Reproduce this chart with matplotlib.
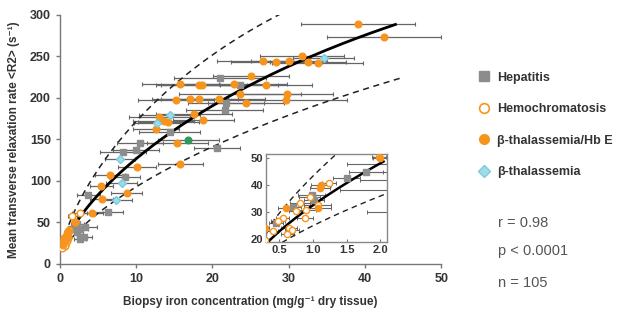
import numpy as np
import matplotlib
matplotlib.use("Agg")
import matplotlib.pyplot as plt
from matplotlib.lines import Line2D

plt.rcParams['font.family'] = ['Liberation Sans', 'DejaVu Sans']

# fitted calibration curve R2 = a + b*LIC^c - d*LIC^(2c), bounds at LIC*k and LIC/k
fit_a, fit_b, fit_c, fit_d = 6.88, 26.06, 0.701, 0.438
bound_k = 1.67

# hepatitis (grey squares)
hep_x = [21.0, 23.6, 21.8, 21.6, 14.4, 10.5, 8.3, 10.0, 20.6, 8.5, 3.7, 6.3,
         2.3, 2.7, 3.3, 2.2, 3.2, 2.6, 1.79, 1.5, 0.98, 1.02, 0.7, 0.45]
hep_y = [224, 215.7, 194, 185.5, 159.4, 146, 135.3, 137.3, 139.4, 105.2, 83, 63,
         48, 42, 45, 38, 33, 30, 45, 42.6, 36.4, 34.6, 31.8, 26]
hep_err = [6, 5, 5, 5, 4, 3, 3, 3, 3, 2, 1.5, 2,
           0.8, 1, 1.5, 0.8, 1, 0.8, 0.25, 0.2, 0.2, 0.15, 0.12, 0.1]

# hemochromatosis (open orange circles)
hemo_x = [2.6, 1.98, 1.24, 0.81, 0.9, 0.55, 0.48, 0.88, 0.64, 0.69, 0.62, 0.29, 1.07,
          1.6, 0.75, 0.95, 0.4]
hemo_y = [61, 50.4, 40.7, 33.3, 30.8, 27.8, 26.5, 27.8, 24, 23.4, 21.6, 19.7, 32.7,
          58, 30.5, 35.5, 23]
hemo_err = [1, 0.1, 0.1, 0.15, 0.15, 0.1, 0.1, 0.12, 0.12, 0.1, 0.1, 0.05, 0.2,
            0.6, 0.1, 0.15, 0.08]

# beta-thalassemia / Hb E (filled orange circles)
bte_x = [39.1, 42.5, 31.8, 26.6, 28.4, 30.0, 32.5, 33.8, 25.1, 22.8, 27.0, 18.6,
         15.8, 18.2, 29.8, 23.6, 29.7, 20.9, 24.4, 15.2, 17.1, 18.3, 18.8, 13.0,
         13.6, 14.2, 17.6, 12.6, 15.4, 10.1, 15.8, 6.6, 5.4, 8.75, 5.5, 4.2,
         2.0, 1.12, 1.1, 1.07, 0.6, 0.29]
bte_y = [289, 273, 250, 244, 243, 245, 243, 242, 226.5, 216.5, 215.7, 215.7,
         217, 216, 205, 205, 197.6, 198.8, 194.3, 197, 198.4, 198.4, 173.5, 176.7,
         172.7, 171.5, 180.3, 162.2, 145.4, 117.2, 120.1, 107.2, 94, 86, 78, 61,
         50.2, 40, 39, 31.5, 31.5, 24]
bte_err = [7.5, 7.5, 5.5, 6, 6, 5, 5, 6, 5, 7, 6, 6,
           5, 5, 6, 8, 8, 6, 5, 5, 5, 5, 4, 4,
           4, 4, 5, 3, 4, 2.5, 3, 2, 1.5, 2, 1.5, 1.5,
           0.1, 0.15, 0.15, 0.2, 0.12, 0.05]

# beta-thalassemia (light blue diamonds)
bt_x = [34.6, 14.4, 12.7, 7.9, 8.1, 7.4]
bt_y = [248.5, 179.5, 170, 126.5, 98, 77]
bt_err = [4, 4, 3, 2, 2, 2]

# unlabelled green point
oth_x = [16.8]
oth_y = [149.4]
oth_err = [4]

orange = '#f7941d'
grey = '#8c8c8c'
blue = '#9fdcea'
green = '#2e9a5a'


def fit(x):
    u = np.power(x, fit_c)
    return fit_a + fit_b * u - fit_d * u * u


groups = [
    (hep_x, hep_y, hep_err, dict(marker='s', mfc=grey, mec=grey)),
    (hemo_x, hemo_y, hemo_err, dict(marker='o', mfc='white', mec=orange)),
    (bte_x, bte_y, bte_err, dict(marker='o', mfc=orange, mec=orange)),
    (bt_x, bt_y, bt_err, dict(marker='D', mfc=blue, mec='#7cc8dc')),
    (oth_x, oth_y, oth_err, dict(marker='o', mfc=green, mec=green)),
]

fig = plt.figure(figsize=(6.24, 3.18), dpi=100)
ax = fig.add_axes([0.096, 0.170, 0.611, 0.783])

for gx, gy, ge, st in groups:
    ax.errorbar(gx, gy, xerr=ge, fmt='none', ecolor='#666666', elinewidth=0.9,
                capsize=1.5, capthick=0.8, zorder=2)
    ax.plot(gx, gy, linestyle='none', ms=4.8 if st['marker'] != 'D' else 4.2,
            mew=1.0, zorder=4, **st)
xs = np.linspace(0.29, 44, 300)
ax.plot(xs, fit(xs), color='black', lw=2.0, zorder=3)
xu = np.linspace(0.3, 29, 300)
ax.plot(xu, fit(xu * bound_k), color='#222222', lw=1.1, ls=(0, (4, 3)), zorder=3)
xl = np.linspace(0.6, 44.6, 300)
ax.plot(xl, fit(xl / bound_k), color='#222222', lw=1.1, ls=(0, (4, 3)), zorder=3)

ax.set_xlim(0, 50)
ax.set_ylim(0, 300)
ax.set_xticks(np.arange(0, 51, 10))
ax.set_yticks(np.arange(0, 301, 50))
for s in ['top', 'right']:
    ax.spines[s].set_visible(False)
for s in ['left', 'bottom']:
    ax.spines[s].set_color('#777777')
    ax.spines[s].set_linewidth(1.0)
ax.tick_params(colors='#777777', labelcolor='#333333', labelsize=9, length=3, width=1)
for lab in ax.get_xticklabels() + ax.get_yticklabels():
    lab.set_fontweight('bold')
ax.set_xlabel('Biopsy iron concentration (mg/g\u207b\u00b9 dry tissue)', fontsize=8.5,
              fontweight='bold', color='#333333', labelpad=8)
ax.set_ylabel('Mean transverse relaxation rate <R2> (s\u207b\u00b9)', fontsize=8.5,
              fontweight='bold', color='#333333', labelpad=7)

# inset with the low-iron points
ins = fig.add_axes([0.426, 0.239, 0.194, 0.277])
for gx, gy, ge, st in groups:
    ins.errorbar(gx, gy, xerr=ge, fmt='none', ecolor='#666666', elinewidth=0.8,
                 capsize=1.2, capthick=0.7, zorder=2)
    ins.plot(gx, gy, linestyle='none', ms=4.5 if st['marker'] != 'D' else 4,
             mew=1.0, zorder=4, **st)
xi = np.linspace(0.29, 2.05, 200)
ins.plot(xi, fit(xi), color='black', lw=1.8, zorder=3)
xiu = np.linspace(0.3, 1.4, 200)
ins.plot(xiu, fit(xiu * bound_k), color='#222222', lw=1.0, ls=(0, (4, 3)), zorder=3)
xil = np.linspace(0.3, 2.1, 200)
ins.plot(xil, fit(xil / bound_k), color='#222222', lw=1.0, ls=(0, (4, 3)), zorder=3)
ins.set_xlim(0.3, 2.1)
ins.set_ylim(18.8, 51.6)
ins.set_xticks([0.5, 1.0, 1.5, 2.0])
ins.set_xticklabels(['0.5', '1.0', '1.5', '2.0'])
ins.set_yticks([20, 30, 40, 50])
for s in ins.spines.values():
    s.set_color('#888888')
    s.set_linewidth(1.0)
ins.tick_params(direction='in', colors='#777777', labelcolor='#333333', labelsize=8,
                length=2, pad=2)
for lab in ins.get_xticklabels() + ins.get_yticklabels():
    lab.set_fontweight('bold')

handles = [
    Line2D([], [], ls='none', marker='s', ms=7, mfc=grey, mec=grey),
    Line2D([], [], ls='none', marker='o', ms=7, mfc='white', mec=orange, mew=1.2),
    Line2D([], [], ls='none', marker='o', ms=7, mfc=orange, mec=orange),
    Line2D([], [], ls='none', marker='D', ms=6, mfc=blue, mec='#7cc8dc'),
]
labels = ['Hepatitis', 'Hemochromatosis', '\u03b2-thalassemia/Hb E', '\u03b2-thalassemia']
leg = fig.legend(handles, labels, loc='upper left', bbox_to_anchor=(0.757, 0.79),
                 frameon=False, fontsize=9, labelspacing=1.55, handlelength=1.0,
                 handletextpad=0.6, borderaxespad=0)
for t in leg.get_texts():
    t.set_fontweight('bold')
    t.set_color('#333333')

for ty, txt in zip([0.299, 0.211, 0.11], ['r = 0.98', 'p < 0.0001', 'n = 105']):
    fig.text(0.798, ty, txt, fontsize=10.5, color='#555555', va='center')

fig.savefig('out.png', dpi=100)
